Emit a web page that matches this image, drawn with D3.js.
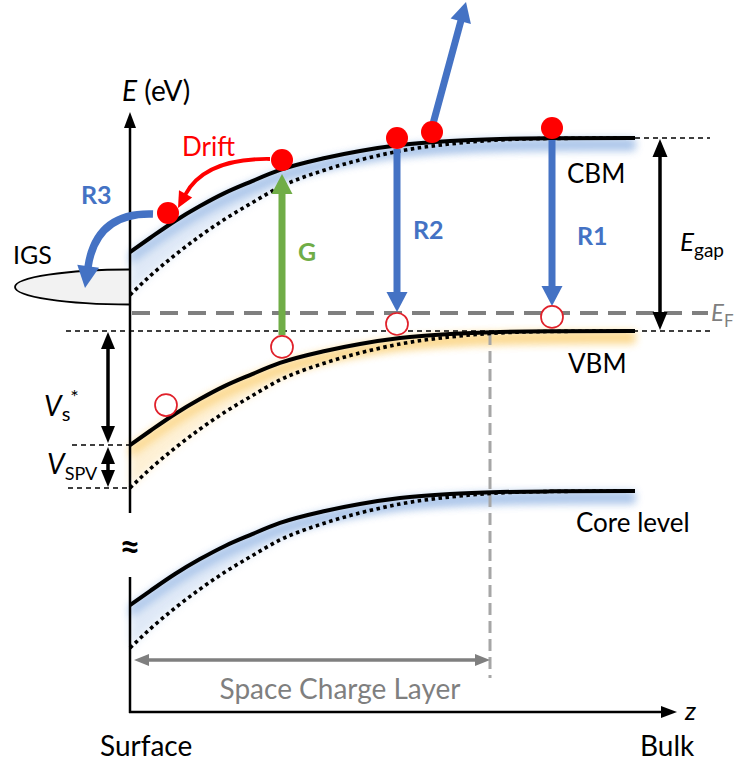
<!DOCTYPE html>
<html><head><meta charset="utf-8">
<script src="https://cdn.jsdelivr.net/npm/d3@7/dist/d3.min.js"></script>
<style>body{margin:0;background:#fff}svg{display:block;font-family:Lato,"Open Sans",sans-serif}</style>
</head><body><svg id="c" width="738" height="765"></svg>
<script>
// ---------- data ----------
const zGrid      = [0, 4, 9, 14, 19, 24, 30, 39, 46, 54, 64, 74, 84, 101];        // depth (arb.)
const bendSolid  = [0.650,0.570,0.473,0.388,0.313,0.251,0.182,0.114,0.074,0.040,0.017,0.006,0.002,0]; // eV, dark
const bendDotted = [0.895,0.787,0.667,0.559,0.462,0.376,0.279,0.182,0.125,0.074,0.034,0.011,0.003,0]; // eV, illuminated
const bandNames  = ["CBM", "VBM", "Core level"];
const bandBulk   = [1.1, 0, -0.912];
const bandGlow   = ["#9dbce6", "#fbd27c", "#9dbce6"];
const fermiE     = 0.103;
const sclWidth   = 72;
const electrons  = [[7.6,0.673],[30.4,0.975],[53.4,1.100],[60.4,1.134],[84.4,1.157]];
const holes      = [[7.2,-0.422],[30.4,-0.091],[53.4,0.040],[84.4,0.080]];
const transitions = [
  {name:"G",  z1:30.4, e1:-0.023, z2:30.4, e2:0.895, color:"#70ad47"},
  {name:"R2", z1:53.4, e1:1.037,  z2:53.4, e2:0.108, color:"#4472c4"},
  {name:"R1", z1:84.4, e1:1.089,  z2:84.4, e2:0.142, color:"#4472c4"},
  {name:"",   z1:60.4, e1:1.160,  z2:67.2, e2:1.875, color:"#4472c4"}
];

// ---------- scales ----------
const x = d3.scaleLinear().domain([0, 101]).range([130, 635]);
const y = d3.scaleLinear().domain([0, 1.1]).range([331, 138]);

const svg = d3.select("#c");
const defs = svg.append("defs");
defs.append("filter").attr("id","blur").attr("x","-20%").attr("y","-50%").attr("width","140%").attr("height","200%")
  .append("feGaussianBlur").attr("stdDeviation", 4.5);

const prof = (bend, bulk) => zGrid.map((z,i)=>[z, bulk - bend[i]]);
const line = d3.line().x(d=>x(d[0])).y(d=>y(d[1])).curve(d3.curveMonotoneX);

function head(g, tip, dir, len, w, color){
  const n = Math.hypot(dir[0],dir[1]); const ux=dir[0]/n, uy=dir[1]/n;
  const bx = tip[0]-ux*len, by = tip[1]-uy*len;
  g.append("path").attr("d", `M${tip[0]},${tip[1]}L${bx-uy*w/2},${by+ux*w/2}L${bx+uy*w/2},${by-ux*w/2}Z`).attr("fill", color);
  return [bx+ux*1, by+uy*1];
}
function arrow(g, p1, p2, width, len, hw, color){
  const b = head(g, p2, [p2[0]-p1[0], p2[1]-p1[1]], len, hw, color);
  g.append("line").attr("x1",p1[0]).attr("y1",p1[1]).attr("x2",b[0]).attr("y2",b[1])
    .attr("stroke",color).attr("stroke-width",width);
}

// ---------- glows ----------
const glowG = svg.append("g");
bandNames.forEach((nm,i)=>{
  const s = prof(bendSolid, bandBulk[i]), d = prof(bendDotted, bandBulk[i]);
  const area = d3.area().x(p=>x(p[0])).y0((p,k)=>y(s[k][1])+1).y1((p,k)=>Math.max(y(d[k][1]), y(s[k][1])+12)).curve(d3.curveMonotoneX);
  glowG.append("path").attr("d", area(s)).attr("fill", bandGlow[i]).attr("opacity",0.32).attr("filter","url(#blur)");
  const area2 = d3.area().x(p=>x(p[0])).y0(p=>y(p[1])+1).y1(p=>y(p[1])+12).curve(d3.curveMonotoneX);
  glowG.append("path").attr("d", area2(s)).attr("fill", bandGlow[i]).attr("opacity",0.85).attr("filter","url(#blur)");
});

// ---------- reference dashed lines ----------
const ref = svg.append("g").attr("stroke","#000").attr("stroke-width",1.4).attr("stroke-dasharray","5,4");
ref.append("line").attr("x1",635).attr("x2",710).attr("y1",y(bandBulk[0])).attr("y2",y(bandBulk[0]));
ref.append("line").attr("x1",66).attr("x2",710).attr("y1",y(bandBulk[1])).attr("y2",y(bandBulk[1]));
ref.append("line").attr("x1",72).attr("x2",130).attr("y1",y(bandBulk[1]-bendSolid[0])).attr("y2",y(bandBulk[1]-bendSolid[0]));
ref.append("line").attr("x1",68).attr("x2",130).attr("y1",y(bandBulk[1]-bendDotted[0])).attr("y2",y(bandBulk[1]-bendDotted[0]));

// Fermi level
svg.append("line").attr("x1",132).attr("x2",708).attr("y1",y(fermiE)).attr("y2",y(fermiE))
  .attr("stroke","#7f7f7f").attr("stroke-width",4).attr("stroke-dasharray","18,10");

// space charge layer boundary
svg.append("line").attr("x1",x(sclWidth)).attr("x2",x(sclWidth)).attr("y1",y(bandBulk[1])+2).attr("y2",678)
  .attr("stroke","#a6a6a6").attr("stroke-width",3).attr("stroke-dasharray","12,6");

// ---------- bands ----------
bandNames.forEach((nm,i)=>{
  svg.append("path").attr("d", line(prof(bendDotted, bandBulk[i]))).attr("fill","none")
    .attr("stroke","#000").attr("stroke-width",3.6).attr("stroke-dasharray","3.5,3.5");
  svg.append("path").attr("d", line(prof(bendSolid, bandBulk[i]))).attr("fill","none")
    .attr("stroke","#000").attr("stroke-width",4);
});

// IGS
svg.append("clipPath").attr("id","igsClip").append("rect").attr("x",0).attr("y",250).attr("width",130).attr("height",80);
svg.append("ellipse").attr("cx",130).attr("cy",287).attr("rx",115).attr("ry",17.5)
  .attr("fill","#f2f2f2").attr("stroke","#000").attr("stroke-width",1.8).attr("clip-path","url(#igsClip)");

// ---------- axes ----------
const ax = svg.append("g");
ax.append("line").attr("x1",130).attr("x2",130).attr("y1",128).attr("y2",513).attr("stroke","#000").attr("stroke-width",2.5);
ax.append("line").attr("x1",130).attr("x2",130).attr("y1",577).attr("y2",713).attr("stroke","#000").attr("stroke-width",2.5);
head(ax,[130,112],[0,-1],16,12,"#000");
ax.append("line").attr("x1",129).attr("x2",664).attr("y1",712).attr("y2",712).attr("stroke","#000").attr("stroke-width",2.5);
head(ax,[677,712],[1,0],16,12,"#000");

// double arrows
function dbl(g, xx, y1, y2, color, w, len, hw){
  head(g,[xx,y1],[0,-1],len,hw,color); head(g,[xx,y2],[0,1],len,hw,color);
  g.append("line").attr("x1",xx).attr("x2",xx).attr("y1",y1+len-1).attr("y2",y2-len+1).attr("stroke",color).attr("stroke-width",w);
}
dbl(svg, 660, y(bandBulk[0])+1, y(bandBulk[1])-1, "#000", 3.5, 18, 15);
dbl(svg, 108, y(bandBulk[1])+1, y(bandBulk[1]-bendSolid[0])-2, "#000", 3.5, 17, 14);
dbl(svg, 108, y(bandBulk[1]-bendSolid[0])+2, y(bandBulk[1]-bendDotted[0])-1, "#000", 3.5, 17, 14);
// SCL horizontal
(function(){
  const g = svg.append("g"); const yy = 660, c = "#7f7f7f";
  head(g,[134,yy],[-1,0],15,12,c); head(g,[x(sclWidth),yy],[1,0],15,12,c);
  g.append("line").attr("x1",147).attr("x2",x(sclWidth)-13).attr("y1",yy).attr("y2",yy).attr("stroke",c).attr("stroke-width",3.5);
})();

// ---------- transitions ----------
transitions.forEach(t=>{
  arrow(svg, [x(t.z1), y(t.e1)], [x(t.z2), y(t.e2)], 7, 20, 21, t.color);
});

// R3 curved arrow (to IGS)
(function(){
  const c = "#4472c4", S=[153,214], C=[96,212], T=[85,288];
  const B = head(svg, T, [T[0]-C[0], T[1]-C[1]], 22, 22, c);
  svg.append("path").attr("d",`M${S}Q${C} ${B}`).attr("fill","none").attr("stroke",c).attr("stroke-width",7.5);
})();
// Drift curved arrow
(function(){
  const c = "#ff0000", S=[270,159], C=[205,158], T=[178,208];
  const B = head(svg, T, [T[0]-C[0], T[1]-C[1]], 16, 15, c);
  svg.append("path").attr("d",`M${S}Q${C} ${B}`).attr("fill","none").attr("stroke",c).attr("stroke-width",3.8);
})();

// carriers
svg.selectAll(".e").data(electrons).enter().append("circle")
  .attr("cx",d=>x(d[0])).attr("cy",d=>y(d[1])).attr("r",11).attr("fill","#ff0000");
svg.selectAll(".h").data(holes).enter().append("circle")
  .attr("cx",d=>x(d[0])).attr("cy",d=>y(d[1])).attr("r",11).attr("fill","#fff").attr("stroke","#e0202a").attr("stroke-width",1.7);

// ---------- texts ----------
function txt(s, xx, yy, size, opts={}){
  const t = svg.append("text").attr("x",xx).attr("y",yy).attr("font-size",size).attr("fill",opts.fill||"#000").text(s);
  if(opts.bold) t.attr("font-weight","bold");
  if(opts.italic) t.attr("font-style","italic");
  if(opts.anchor) t.attr("text-anchor",opts.anchor);
  return t;
}
(function(){
  const t = svg.append("text").attr("x",122).attr("y",101).attr("font-size",28);
  t.append("tspan").attr("font-style","italic").text("E");
  t.append("tspan").text(" (eV)");
})();
txt("Drift", 182, 156, 26, {fill:"#ff0000"});
txt("R3", 81, 204, 25, {fill:"#4472c4", bold:true});
txt("IGS", 13, 264, 25);
txt("G", 298, 261, 25, {fill:"#70ad47", bold:true});
txt("R2", 413, 239, 25, {fill:"#4472c4", bold:true});
txt("R1", 577, 245, 25, {fill:"#4472c4", bold:true});
txt(bandNames[0], 567, 183, 26);
txt(bandNames[1], 568, 373, 26);
txt(bandNames[2], 576, 532, 26);
(function(){
  const t = svg.append("text").attr("x",680).attr("y",251).attr("font-size",26);
  t.append("tspan").attr("font-style","italic").text("E");
  t.append("tspan").attr("font-size",19).attr("dy",6).text("gap");
  const f = svg.append("text").attr("x",711).attr("y",321).attr("font-size",24).attr("fill","#7f7f7f");
  f.append("tspan").attr("font-style","italic").text("E");
  f.append("tspan").attr("font-size",17).attr("dy",6).text("F");
  const v = svg.append("text").attr("x",44).attr("y",416).attr("font-size",28);
  v.append("tspan").attr("font-style","italic").text("V");
  v.append("tspan").attr("font-size",20).attr("dy",5).text("s");
  v.append("tspan").attr("font-size",20).attr("dy",-17).text("*");
  const w = svg.append("text").attr("x",47).attr("y",474).attr("font-size",28);
  w.append("tspan").attr("font-style","italic").text("V");
  w.append("tspan").attr("font-size",18).attr("dy",6).text("SPV");
})();
txt("≈", 130, 559, 36, {bold:true, anchor:"middle"});
txt("Space Charge Layer", 340, 699, 28, {fill:"#7f7f7f", anchor:"middle"});
txt("z", 685, 720, 26, {italic:true});
txt("Surface", 100, 756, 28);
txt("Bulk", 640, 756, 28);
</script></body></html>
